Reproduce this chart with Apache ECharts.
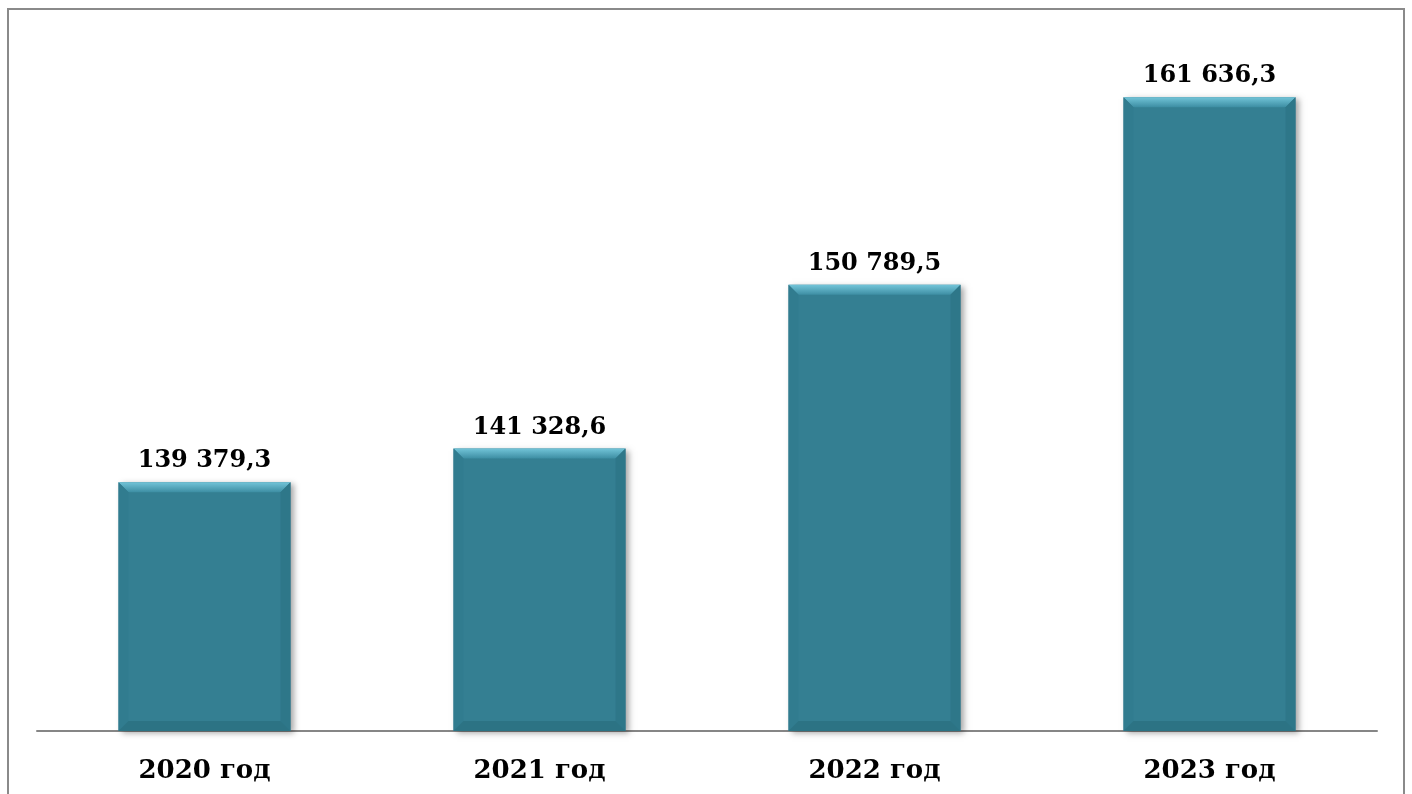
<!DOCTYPE html>
<html><head><meta charset="utf-8">
<script src="https://cdn.jsdelivr.net/npm/echarts@6/dist/echarts.min.js"></script>
<style>html,body{margin:0;padding:0;background:#fff}#c{width:1412px;height:794px}</style>
</head><body><div id="c"></div>
<script>
const categories = ['2020 год', '2021 год', '2022 год', '2023 год'];
const values = [139379.3, 141328.6, 150789.5, 161636.3];
const valueLabels = ['139 379,3', '141 328,6', '150 789,5', '161 636,3'];

const chart = echarts.init(document.getElementById('c'));
const FONT = '"DejaVu Serif", "Liberation Serif", serif';
const BW = 172, BV = 10;

function renderBar(params, api) {
  const idx = api.value(0);
  const top = api.coord([idx, api.value(1)]);
  const base = api.coord([idx, 125000]);
  const x0 = top[0] - BW / 2, x1 = top[0] + BW / 2, y0 = top[1], y1 = base[1];
  const b = BV;
  return {
    type: 'group',
    children: [
      { type: 'rect', shape: { x: x0, y: y0, width: BW, height: y1 - y0 },
        style: { fill: '#347f92', shadowBlur: 6, shadowOffsetX: 3, shadowOffsetY: 2, shadowColor: 'rgba(0,0,0,0.35)' } },
      { type: 'polygon', shape: { points: [[x0, y0], [x1, y0], [x1 - b, y0 + b], [x0 + b, y0 + b]] },
        style: { fill: new echarts.graphic.LinearGradient(0, 0, 0, 1, [{ offset: 0, color: '#72c4d8' }, { offset: 1, color: '#3d8ea3' }]) } },
      { type: 'polygon', shape: { points: [[x0, y0], [x0 + b, y0 + b], [x0 + b, y1 - b], [x0, y1]] },
        style: { fill: '#317c8f' } },
      { type: 'polygon', shape: { points: [[x1, y0], [x1 - b, y0 + b], [x1 - b, y1 - b], [x1, y1]] },
        style: { fill: '#2e7789' } },
      { type: 'polygon', shape: { points: [[x0, y1], [x0 + b, y1 - b], [x1 - b, y1 - b], [x1, y1]] },
        style: { fill: '#2c7384' } },
      { type: 'text', style: { x: top[0], y: y0 - 9, text: valueLabels[params.dataIndex], fill: '#000',
        font: 'bold 24px ' + FONT, align: 'center', verticalAlign: 'bottom' } }
    ]
  };
}

chart.setOption({
  animation: false,
  graphic: [{ type: 'rect', shape: { x: 8, y: 9, width: 1396, height: 800 }, style: { fill: 'none', stroke: '#8a8a8a', lineWidth: 2 }, z: -1 }],
  grid: { left: 37, right: 35, top: 39, bottom: 63 },
  xAxis: {
    type: 'category', data: categories,
    axisLine: { lineStyle: { color: '#868686', width: 2 } },
    axisTick: { show: false },
    axisLabel: { color: '#000', fontFamily: FONT, fontWeight: 'bold', fontSize: 26, margin: 27 }
  },
  yAxis: { type: 'value', min: 125000, max: 165000, show: false, splitLine: { show: false } },
  series: [
    {
      type: 'custom', renderItem: renderBar, z: 2,
      data: values.map((v, i) => [i, v])
    }
  ]
});
</script></body></html>
